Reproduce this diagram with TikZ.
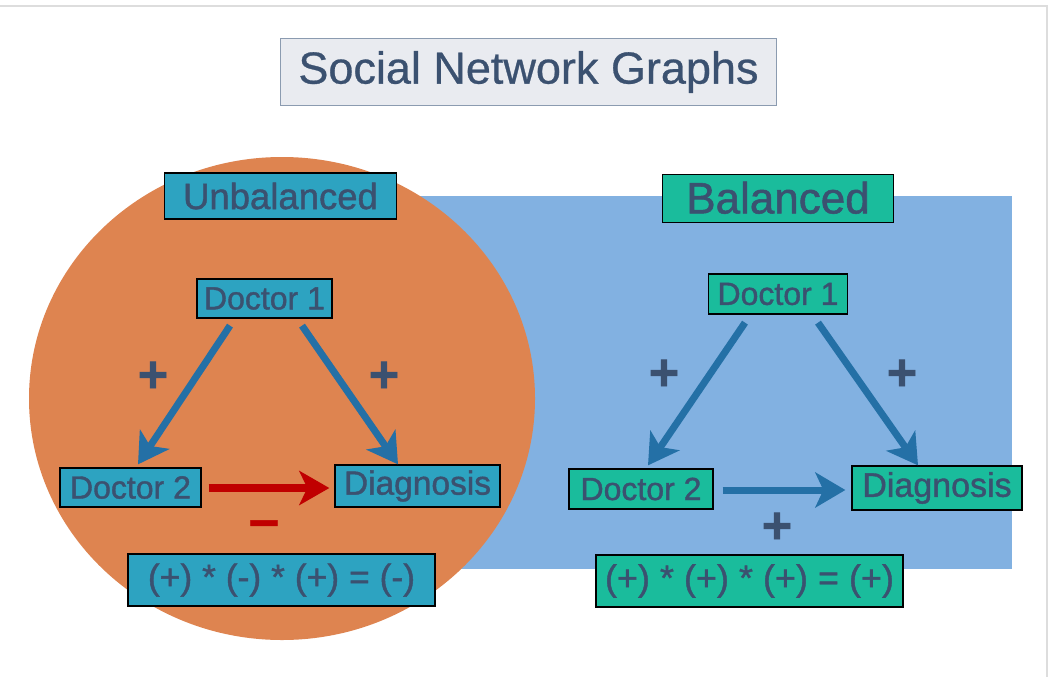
\documentclass[tikz,border=0pt]{standalone}
\usepackage{fontspec}
\setmainfont{Liberation Sans}[FakeBold=1.2]
\newfontfamily\titlefont{Liberation Sans}[FakeBold=0.6]
\usetikzlibrary{arrows.meta,calc}
\definecolor{txt}{HTML}{3B5170}
\definecolor{orangec}{HTML}{DE8450}
\definecolor{bluebg}{HTML}{82B1E1}
\definecolor{unbfill}{HTML}{2DA3C1}
\definecolor{balfill}{HTML}{1ABC9C}
\definecolor{arrowc}{HTML}{2470A6}
\definecolor{redc}{HTML}{C00000}
\definecolor{titlefill}{HTML}{E9EBF0}
\definecolor{titledraw}{HTML}{8B9BB0}
\definecolor{framec}{HTML}{DDDDDD}
\newcommand{\fs}[1]{\fontsize{#1}{#1}\selectfont}
\tikzset{
  x=1pt, y=-1pt,
  boxbase/.style={draw=black, line width=1.3pt, text=txt, inner sep=0pt, rectangle},
  unbbox/.style={boxbase, fill=unbfill},
  balbox/.style={boxbase, fill=balfill},
  arr/.style={draw=arrowc, line width=7pt, -{Stealth[length=30pt, width=35pt, inset=8pt]}},
  redarr/.style={draw=redc, line width=7.5pt, -{Stealth[length=30pt, width=34pt, inset=8pt]}},
  signlbl/.style={text=txt, font=\bfseries\fs{52}, inner sep=0pt},
  minuslbl/.style={text=redc, font=\bfseries\fs{54}, inner sep=0pt},
}
\begin{document}
\begin{tikzpicture}
\useasboundingbox (0,0) rectangle (1056,677);
\fill[white] (0,0) rectangle (1056,677);
% outer frame
\draw[framec, line width=1.2pt] (0,6) -- (1047,6) -- (1047,677);
% backgrounds
\fill[bluebg] (300,195.5) rectangle (1012,569);
\fill[orangec] (282,398.5) ellipse [x radius=253, y radius=241.5];
% title
\node[draw=titledraw, fill=titlefill, line width=1pt, text=txt, inner sep=0pt,
      minimum width=496pt, minimum height=66pt, font=\titlefont\fs{45}] (title) at (528.5,72) {Social Network Graphs};
% headings
\node[unbbox, minimum width=232pt, minimum height=46pt, font=\fs{36.5}] (unb) at (280.5,196) {Unbalanced};
\node[balbox, minimum width=231pt, minimum height=48pt, font=\fs{44}, text depth=0.2em] (bal) at (778,198.5) {Balanced};
% left graph
\node[unbbox, minimum width=135pt, minimum height=39pt, font=\fs{32}] (ld1) at (264.5,298.5) {Doctor 1};
\node[unbbox, minimum width=141pt, minimum height=39pt, font=\fs{32}] (ld2) at (130.5,487.5) {Doctor 2};
\node[unbbox, minimum width=165pt, minimum height=42pt, font=\fs{33.5}] (ldg) at (417.5,486) {Diagnosis};
\node[unbbox, minimum width=307pt, minimum height=52pt, font=\fs{35.5}] (lf) at (281.5,580) {(+) * (-) * (+) = (-)};
\draw[arr] ($(ld1.south)+(-34.5,7)$) -- ($(ld2.north)+(7.5,-3)$);
\draw[arr] ($(ld1.south)+(37.5,7)$) -- ($(ldg.north)+(-19.5,0)$);
\draw[redarr] ($(ld2.east)+(7,0.5)$) -- ($(ldg.west)+(-5,2)$);
\node[signlbl] (lp1) at (153,377) {+};
\node[signlbl] (lp2) at (384,377) {+};
\node[minuslbl] (lm) at (264,529) {–};
% right graph
\node[balbox, minimum width=139pt, minimum height=40pt, font=\fs{32}] (rd1) at (778,294) {Doctor 1};
\node[balbox, minimum width=144pt, minimum height=40pt, font=\fs{32}] (rd2) at (641,489) {Doctor 2};
\node[balbox, minimum width=170pt, minimum height=44pt, font=\fs{34}] (rdg) at (937,488) {Diagnosis};
\node[balbox, minimum width=307pt, minimum height=52pt, font=\fs{36}] (rf) at (749.5,581) {(+) * (+) * (+) = (+)};
\draw[arr] ($(rd1.south)+(-33,8)$) -- ($(rd2.north)+(7,-3)$);
\draw[arr] ($(rd1.south)+(40,8)$) -- ($(rdg.north)+(-19,0)$);
\draw[arr] ($(rd2.east)+(9,1)$) -- ($(rdg.west)+(-6,2)$);
\node[signlbl] (rp1) at (664,375) {+};
\node[signlbl] (rp2) at (902,375) {+};
\node[signlbl] (rp3) at (777,528) {+};
\end{tikzpicture}
\end{document}
